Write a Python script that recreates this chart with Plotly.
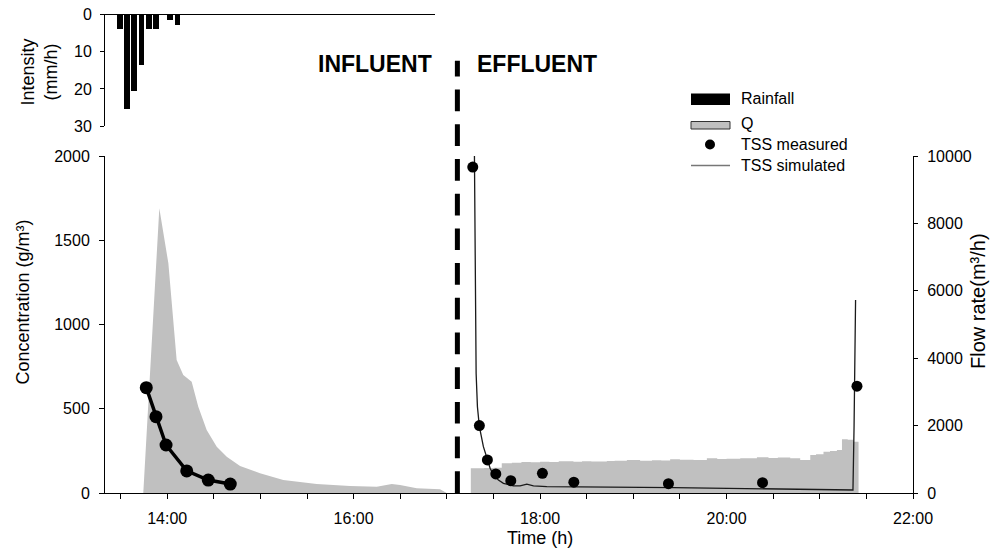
import plotly.graph_objects as go

# ---------------- data ----------------
# Rainfall (top panel)
rain_time = [13.491, 13.569, 13.647, 13.725, 13.803, 13.878, 14.034, 14.111]
rain_intensity = [3.9, 25.3, 20.5, 13.5, 3.9, 3.9, 1.4, 2.6]

# Influent flow rate Q (m3/h)
q_in_time = [13.744, 13.916, 14.013, 14.102, 14.173, 14.263, 14.334, 14.424, 14.532,
             14.639, 14.782, 14.996, 15.246, 15.604, 15.962, 16.248, 16.409, 16.498,
             16.677, 16.927, 16.999]
q_in_flow = [0, 8447, 6815, 3946, 3501, 3303, 2561, 1869, 1374,
             1077, 801, 584, 386, 267, 208, 187, 267, 237,
             139, 110, 0]

# Effluent flow rate Q (m3/h)
q_ef_time = [17.257, 17.40, 17.50, 17.589, 17.697, 17.80, 17.90, 18.00, 18.10, 18.20,
             18.358, 18.45, 18.55, 18.716, 18.80, 18.931, 19.073, 19.20, 19.30, 19.395,
             19.50, 19.646, 19.789, 19.90, 20.00, 20.147, 20.326, 20.45, 20.55, 20.683,
             20.790, 20.898, 20.96, 21.040, 21.11, 21.184, 21.238, 21.30, 21.362, 21.416]
q_ef_flow = [733, 740, 750, 881, 900, 920, 910, 929, 920, 940,
             929, 945, 935, 949, 960, 979, 959, 975, 965, 999,
             985, 979, 1029, 1010, 1020, 1029, 1058, 1040, 1050, 1029,
             979, 1127, 1150, 1226, 1250, 1276, 1593, 1580, 1523, 0]

# Influent TSS measured (g/m3)
tss_in_time = [13.776, 13.880, 13.988, 14.210, 14.441, 14.677]
tss_in_conc = [625, 453, 285, 131, 77, 53]

# Effluent TSS measured (g/m3)
tss_ef_time = [17.278, 17.349, 17.435, 17.525, 17.686, 18.025, 18.362, 19.377, 20.386, 21.399]
tss_ef_conc = [1934, 400, 196, 113, 73, 117, 64, 55, 61, 634]

# Effluent TSS simulated (g/m3)
sim_time = [17.296, 17.303, 17.314, 17.328, 17.349, 17.392, 17.429, 17.464, 17.500,
            17.553, 17.607, 17.714, 17.786, 17.858, 17.929, 18.072, 19.431, 20.504,
            21.356, 21.368, 21.384]
sim_conc = [2000, 1502, 711, 512, 394, 275, 206, 147, 107,
            77, 57, 43, 42, 53, 42, 38, 32, 26,
            18, 400, 1146]

divider_time = 17.113

tick_vals = [13.5 + 0.5 * i for i in range(18)]
tick_text = [f"{int(v)}:00" if (v == int(v) and int(v) % 2 == 0) else "" for v in tick_vals]
conc_ticks = [0, 500, 1000, 1500, 2000]
flow_ticks = [0, 2000, 4000, 6000, 8000, 10000]
flow_tick_text = ["0", "2000", "4000", "6000", "8000", "10000"]
rain_ticks = [0, 10, 20, 30]

# ---------------- layout helpers ----------------
W, H = 990, 554
FONT = "Liberation Sans, Arial, sans-serif"


def fx(p):
    return p / W


def fy(p):
    return (H - p) / H


GRAY = "#c0c0c0"

fig = go.Figure()

# Q areas (primary y = flow, right side)
fig.add_trace(go.Scatter(x=q_in_time, y=q_in_flow, mode="lines", fill="tozeroy",
                         fillcolor=GRAY, line=dict(width=0, color=GRAY),
                         xaxis="x", yaxis="y", showlegend=False, hoverinfo="skip"))
fig.add_trace(go.Scatter(x=q_ef_time, y=q_ef_flow, mode="lines", fill="tozeroy",
                         fillcolor=GRAY, line=dict(width=0, color=GRAY, shape="hv"),
                         xaxis="x", yaxis="y", showlegend=False, hoverinfo="skip"))

# TSS on concentration axis (overlay, left)
fig.add_trace(go.Scatter(x=sim_time, y=sim_conc, mode="lines",
                         line=dict(color="#1a1a1a", width=1.3),
                         xaxis="x", yaxis="y3", showlegend=False))
fig.add_trace(go.Scatter(x=tss_in_time, y=tss_in_conc, mode="lines+markers",
                         line=dict(color="black", width=3.5),
                         marker=dict(color="black", size=13),
                         xaxis="x", yaxis="y3", showlegend=False))
fig.add_trace(go.Scatter(x=tss_ef_time, y=tss_ef_conc, mode="markers",
                         marker=dict(color="black", size=11),
                         xaxis="x", yaxis="y3", showlegend=False))

# Rainfall bars (top panel)
fig.add_trace(go.Bar(x=rain_time, y=rain_intensity, width=0.064,
                     marker=dict(color="black", line=dict(width=0)),
                     xaxis="x2", yaxis="y2", showlegend=False))

axis_common = dict(showgrid=False, zeroline=False, showline=True, linecolor="black",
                   linewidth=1, ticks="outside", tickcolor="black", tickwidth=1,
                   automargin=False,
                   tickfont=dict(family=FONT, size=16, color="black"))

main_dom_x = [fx(105), fx(913)]
main_dom_y = [fy(493), fy(156)]

fig.update_layout(
    width=W, height=H,
    margin=dict(l=0, r=0, t=0, b=0),
    paper_bgcolor="white", plot_bgcolor="white",
    font=dict(family=FONT, size=16, color="black"),
    bargap=0,
    xaxis=dict(domain=main_dom_x, range=[13 + 1 / 3, 22], anchor="y",
               tickvals=tick_vals, ticktext=tick_text, ticklen=5,
               ticklabelstandoff=6, **axis_common),
    yaxis=dict(domain=main_dom_y, range=[0, 10000], anchor="x", side="right",
               tickvals=flow_ticks, ticktext=flow_tick_text, ticklen=4,
               ticklabelstandoff=6, **axis_common),
    yaxis3=dict(range=[0, 2000], overlaying="y", anchor="x", side="left",
                tickvals=conc_ticks, ticklen=5, ticklabelstandoff=6, **axis_common),
    xaxis2=dict(domain=[fx(105), fx(435)], range=[13 + 1 / 3, 16.874], anchor="y2",
                side="top", showgrid=False, zeroline=False, showline=True,
                linecolor="black", linewidth=1, ticks="", showticklabels=False,
                automargin=False),
    yaxis2=dict(domain=[fy(126), fy(14.7)], range=[30, 0], anchor="x2",
                tickvals=rain_ticks, ticklen=4, ticklabelstandoff=5, **axis_common),
)

# Divider dashed line
fig.add_shape(type="line", xref="x", yref="paper",
              x0=divider_time, x1=divider_time, y0=fy(493), y1=fy(60.7),
              line=dict(color="black", width=5, dash="21.7px,13px"), layer="above")

annotations = []
annotations.append(dict(text="INFLUENT", x=fx(316), y=fy(64), xref="paper", yref="paper",
                        xanchor="left", yanchor="middle", showarrow=False,
                        font=dict(family=FONT, size=23, color="black", weight="bold")))
annotations.append(dict(text="EFFLUENT", x=fx(475), y=fy(64), xref="paper", yref="paper",
                        xanchor="left", yanchor="middle", showarrow=False,
                        font=dict(family=FONT, size=23, color="black", weight="bold")))
annotations.append(dict(text="Concentration (g/m³)", x=fx(22.5), y=fy(302), xref="paper",
                        yref="paper", xanchor="center", yanchor="middle", textangle=-90,
                        showarrow=False, font=dict(family=FONT, size=18)))
annotations.append(dict(text="Flow rate(m³/h)", x=fx(978), y=fy(301), xref="paper",
                        yref="paper", xanchor="center", yanchor="middle", textangle=-90,
                        showarrow=False, font=dict(family=FONT, size=20)))
annotations.append(dict(text="Time (h)", x=fx(540), y=fy(538), xref="paper", yref="paper",
                        xanchor="center", yanchor="middle", showarrow=False,
                        font=dict(family=FONT, size=18)))
annotations.append(dict(text="Intensity<br>(mm/h)", x=fx(39.5), y=fy(72), xref="paper",
                        yref="paper", xanchor="center", yanchor="middle", textangle=-90,
                        showarrow=False, font=dict(family=FONT, size=18)))

# Custom legend
leg_x0, leg_x1, leg_text_x = 691, 730, 739
legend_items = [("Rainfall", 99), ("Q", 124), ("TSS measured", 144.5), ("TSS simulated", 165.5)]
for label, yc in legend_items:
    annotations.append(dict(text=label, x=fx(leg_text_x), y=fy(yc), xref="paper", yref="paper",
                            xanchor="left", yanchor="middle", showarrow=False,
                            font=dict(family=FONT, size=16)))
fig.add_shape(type="rect", xref="paper", yref="paper", x0=fx(leg_x0), x1=fx(leg_x1),
              y0=fy(105), y1=fy(93.5), fillcolor="black", line=dict(width=0))
fig.add_shape(type="rect", xref="paper", yref="paper", x0=fx(leg_x0), x1=fx(leg_x1),
              y0=fy(129), y1=fy(121.5), fillcolor=GRAY, line=dict(width=1, color="#333333"))
fig.add_shape(type="circle", xref="paper", yref="paper", x0=fx(705), x1=fx(715),
              y0=fy(149.5), y1=fy(139.5), fillcolor="black", line=dict(width=0))
fig.add_shape(type="line", xref="paper", yref="paper", x0=fx(leg_x0), x1=fx(leg_x1),
              y0=fy(165.5), y1=fy(165.5), line=dict(width=1.5, color="#777777"))

fig.update_layout(annotations=annotations)

fig.write_html("out.html")
